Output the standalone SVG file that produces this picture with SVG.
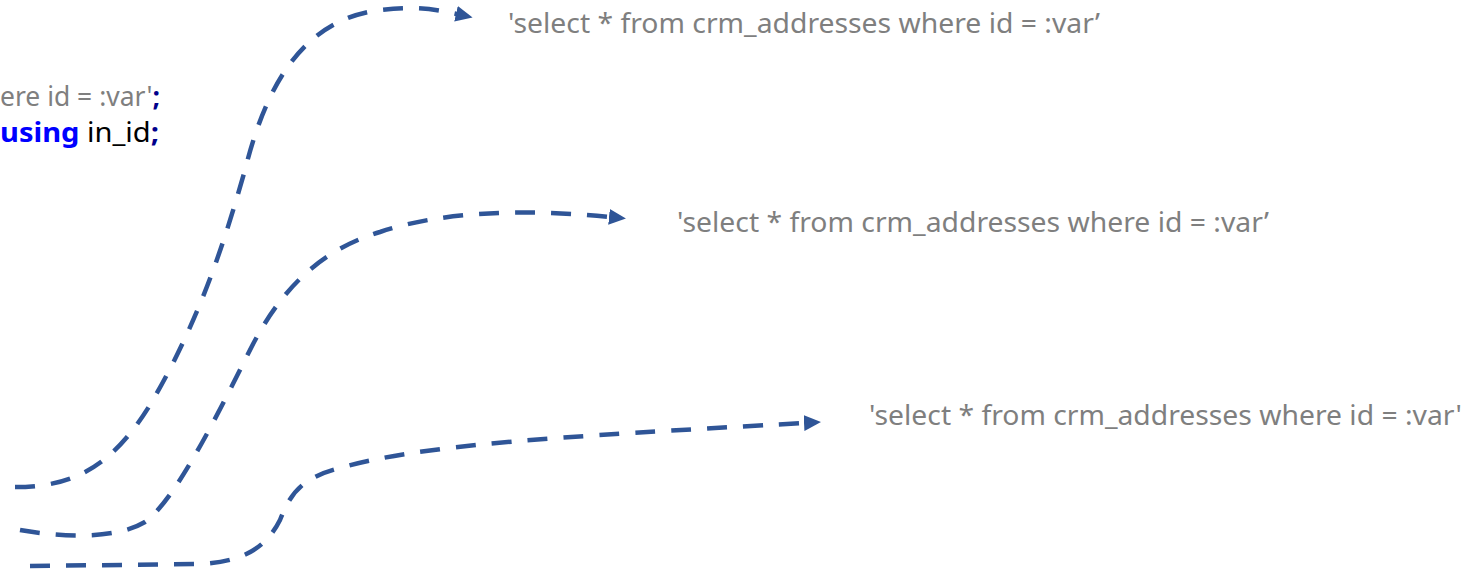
<svg xmlns="http://www.w3.org/2000/svg" width="1474" height="576" viewBox="0 0 1474 576">
<style>
.t{font-family:"Noto Sans","Open Sans","Liberation Sans",sans-serif;font-size:27px;fill:#7f7f7f}
.c{font-family:"Noto Sans","Open Sans","Liberation Sans",sans-serif;font-size:27px}
.g{fill:#7f7f7f}
.k{fill:#000000}
.b{fill:#0000ff;font-weight:bold}
.s{fill:#00008b;font-weight:bold}
.conn{fill:none;stroke:#2f5597;stroke-width:4.5;stroke-dasharray:20 16;marker-end:url(#arr)}
</style>
<defs>
<marker id="arr" viewBox="0 0 17 16" refX="1" refY="8" markerWidth="17" markerHeight="16" markerUnits="userSpaceOnUse" orient="auto">
<path d="M0,0 L17,8 L0,16 Z" fill="#2f5597"/>
</marker>
</defs>
<g id="code">
<text class="c" x="0" y="106" textLength="160" lengthAdjust="spacingAndGlyphs"><tspan class="g">ere id = :var'</tspan><tspan class="s">;</tspan></text>
<text class="c" x="0" y="142" textLength="159" lengthAdjust="spacingAndGlyphs"><tspan class="b">using</tspan><tspan class="k"> in_id</tspan><tspan class="s">;</tspan></text>
</g>
<g id="label1"><text class="t" x="508" y="33" textLength="592" lengthAdjust="spacingAndGlyphs">'select * from crm_addresses where id = :var’</text></g>
<g id="label2"><text class="t" x="677" y="232" textLength="592" lengthAdjust="spacingAndGlyphs">'select * from crm_addresses where id = :var’</text></g>
<g id="label3"><text class="t" x="869" y="425" textLength="593" lengthAdjust="spacingAndGlyphs">'select * from crm_addresses where id = :var'</text></g>
<g id="connectors">
<path class="conn" d="M15,487 C70,487 110,470 150,405 C200,320 225,240 245,170 C265,90 300,20 380,10 C415,6 435,9 457,14"/>
<path class="conn" d="M20,530 C60,537 115,540 145,522 C175,500 215,420 250,350 C280,290 320,250 380,232 C440,212 520,208 610,217"/>
<path class="conn" d="M30,566 L200,564 C240,562 265,550 280,520 C290,495 300,478 340,468 C420,445 550,437 805,423"/>
</g>
</svg>
